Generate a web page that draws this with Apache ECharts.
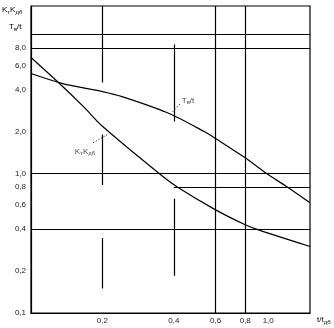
<!DOCTYPE html>
<html><head><meta charset="utf-8">
<script src="https://cdn.jsdelivr.net/npm/echarts@6/dist/echarts.min.js"></script>
<style>html,body{margin:0;padding:0;background:#fff}#c{width:334px;height:328px}</style>
</head><body><div id="c"></div>
<script>
// tick labels
const xTicks = [0.2, 0.4, 0.6, 0.8, 1.0];
const yTicks = [0.1, 0.2, 0.4, 0.6, 0.8, 1.0, 2.0, 4.0, 6.0, 8.0];
// curve Tв/t
const tbX = [0.1, 0.136, 0.2, 0.242, 0.374, 0.54, 0.6, 0.8, 0.97, 1.22, 1.5];
const tbY = [5.24, 4.44, 3.89, 3.58, 2.75, 2.0, 1.79, 1.30, 1.02, 0.79, 0.618];
// curve KтKдб
const kX = [0.1, 0.136, 0.168, 0.2, 0.349, 0.42, 0.6, 0.8, 0.91, 1.5];
const kY = [6.83, 4.23, 2.98, 2.19, 0.995, 0.789, 0.55, 0.43, 0.395, 0.30];
// grid segments: [x, yFrom, yTo] and [y, xFrom, xTo]
const vSegments = [[0.2, 4.52, 16], [0.2, 0.83, 1.91], [0.2, 0.15, 0.346], [0.4, 2.37, 8.46], [0.4, 0.185, 0.66], [0.6, 0.1, 16], [0.8, 0.1, 16]];
const hSegments = [[10, 0.1, 1.5], [8, 0.1, 1.5], [1.0, 0.1, 1.5], [0.8, 0.4, 1.5], [0.4, 0.1, 1.5]];
// curve annotations
const tbLabelAt = [0.432, 3.35];
const tbLeader = [[0.396, 2.79], [0.425, 3.18]];
const kLabelAt = [0.153, 1.44];
const kLeader = [[0.183, 1.67], [0.21, 1.91]];

const fmt = v => Number(v).toFixed(1).replace('.', ',');
const FONT = 'Liberation Sans';
const pairs = (xs, ys) => xs.map((x, i) => [x, ys[i]]);
const segs = [];
vSegments.forEach(s => segs.push({coords: [[s[0], s[1]], [s[0], s[2]]]}));
hSegments.forEach(s => segs.push({coords: [[s[1], s[0]], [s[2], s[0]]]}));

const rich = {
  a: {fontSize: 8, fontFamily: FONT, color: '#111'},
  s: {fontSize: 6, fontFamily: FONT, color: '#111', padding: [4, 0, 0, 0]}
};

const chart = echarts.init(document.getElementById('c'), null, {renderer: 'canvas'});
chart.setOption({
  animation: false,
  backgroundColor: '#fff',
  grid: {left: 31, top: 6, right: 24, bottom: 15, show: true, borderColor: '#000', borderWidth: 1.2},
  xAxis: {
    type: 'log', min: 0.1, max: 1.5, logBase: 10,
    axisLine: {lineStyle: {color: '#000', width: 1.2}},
    axisTick: {show: false},
    splitLine: {show: false},
    axisLabel: {customValues: xTicks, formatter: fmt, fontSize: 8, fontFamily: FONT, color: '#222', margin: 4}
  },
  yAxis: {
    type: 'log', min: 0.1, max: 16, logBase: 10,
    axisLine: {show: true, lineStyle: {color: '#000', width: 1.2}},
    axisTick: {show: false},
    splitLine: {show: false},
    axisLabel: {customValues: yTicks, formatter: fmt, fontSize: 8, fontFamily: FONT, color: '#222', margin: 5}
  },
  graphic: [
    {type: 'text', left: 2, top: 6, style: {rich: rich, text: '{a|K}{s|т}{a|K}{s|дб}'}},
    {type: 'text', left: 9, top: 23, style: {rich: rich, text: '{a|T}{s|в}{a|/t}'}},
    {type: 'text', left: 317, top: 316, style: {rich: rich, text: '{a|t/t}{s|дб}'}}
  ],
  series: [
    {type: 'lines', coordinateSystem: 'cartesian2d', silent: true,
     lineStyle: {color: '#000', width: 1.2, opacity: 1}, data: segs},
    {type: 'lines', coordinateSystem: 'cartesian2d', silent: true,
     lineStyle: {color: '#000', width: 1, type: [1, 2], opacity: 1},
     data: [{coords: tbLeader}, {coords: kLeader}]},
    {type: 'line', data: pairs(tbX, tbY), smooth: 0.3, symbol: 'none',
     lineStyle: {color: '#000', width: 1.2}},
    {type: 'line', data: pairs(kX, kY), smooth: 0.3, symbol: 'none',
     lineStyle: {color: '#000', width: 1.2}},
    {type: 'scatter', symbolSize: 0, silent: true,
     data: [
       {value: tbLabelAt, label: {formatter: '{a|T}{s|в}{a|/t}'}},
       {value: kLabelAt, label: {formatter: '{a|K}{s|т}{a|K}{s|дб}'}}
     ],
     label: {show: true, position: 'right', distance: 0, rich: rich}}
  ]
});
</script></body></html>
